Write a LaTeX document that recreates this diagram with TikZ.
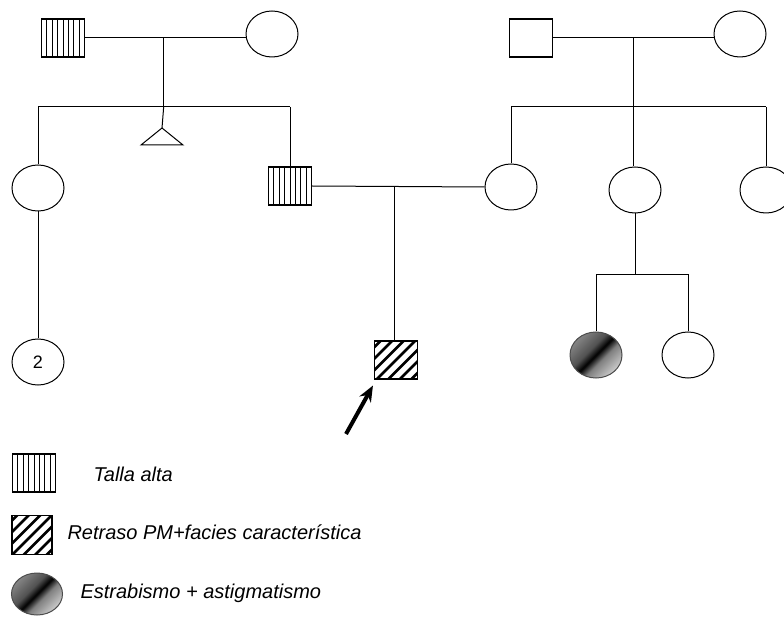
\documentclass[tikz,border=0pt]{standalone}
\usepackage{fontspec}
\setmainfont{Liberation Sans}
\usetikzlibrary{calc,shapes.geometric,arrows.meta}

% sombreado para estrabismo + astigmatismo
\pgfdeclarehorizontalshading{estrabsh}{100bp}{color(0bp)=(black!45); color(25bp)=(black!48); color(42bp)=(black!68); color(50bp)=(black); color(58bp)=(black!50); color(75bp)=(black!20); color(100bp)=(black!15)}

\tikzset{
  varon/.style={draw, rectangle, minimum width=43pt, minimum height=38pt, inner sep=0pt, line width=1.1pt},
  mujer/.style={draw, ellipse, minimum width=52pt, minimum height=46pt, inner sep=0pt, line width=1pt},
  talla/.style={varon, path picture={
      \foreach \k in {1,...,7}
        \draw[line width=0.8pt] ([xshift=\k*5.375pt]path picture bounding box.north west) -- ([xshift=\k*5.375pt]path picture bounding box.south west);}},
  retraso/.style={varon, path picture={
      \foreach \k in {-5,...,5}
        \draw[line width=2.8pt] ([xshift=\k*11.5pt]path picture bounding box.center) ++(-30pt,-30pt) -- ++(60pt,60pt);}},
  estrab/.style={mujer, draw=black!70, shading=estrabsh, shading angle=-45},
  leyenda/.style={anchor=west, inner sep=0pt, font=\fontsize{20}{23}\selectfont\itshape},
}

\begin{document}
\begin{tikzpicture}[x=1pt, y=-1pt, line width=1pt]
    \useasboundingbox (0,0) rectangle (784,617);

    % Abuelos paternos
    \node[talla] (abP) at (63,38) {};
    \node[mujer] (abaP) at (272,34) {};
    \draw (abP.east) -- (abP.east -| abaP.west);
    \coordinate (uP) at ($(abP.east)!0.49!(abP.east -| abaP.west)$);
    \coordinate (hP) at ($(uP)+(0,69)$);
    \draw (uP) -- (hP);

    % Hijos: tia, aborto, padre
    \node[mujer] (tiaP) at (38,188) {};
    \node[talla] (papa) at (290,186) {};
    \coordinate (abo) at (162,128);
    \draw (hP -| tiaP.north) -- (hP -| papa.north);
    \draw (hP -| tiaP.north) -- (tiaP.north);
    \draw (hP -| papa.north) -- (papa.north);
    \draw (hP) -- (abo);
    \draw (abo) -- ++(-21,17) -- ++(42,0) -- cycle;

    % Hija de la tia (2)
    \node[mujer, font=\fontsize{18}{20}\selectfont] (hijaP) at (38,362) {2};
    \draw (tiaP.south) -- (hijaP.north);

    % Abuelos maternos
    \node[varon] (abM) at (531,38) {};
    \node[mujer] (abaM) at (740,34) {};
    \draw (abM.east) -- (abM.east -| abaM.west);
    \coordinate (uM) at ($(abM.east)!0.5!(abM.east -| abaM.west)$);
    \coordinate (hM) at ($(uM)+(0,69)$);
    \draw (uM) -- (hM);

    % Hijas: madre, tias
    \node[mujer] (mama) at (511,187) {};
    \node[mujer] (tiaM) at (635,190) {};
    \node[mujer] (tiaM2) at (766,190) {};
    \draw (hM -| mama.north) -- (hM -| tiaM2.north);
    \draw (hM -| mama.north) -- (mama.north);
    \draw (hM) -- (hM |- tiaM.north);
    \draw (hM -| tiaM2.north) -- (tiaM2.north);

    % Primas
    \node[estrab] (prima1) at (596,355) {};
    \node[mujer] (prima2) at (688,355) {};
    \coordinate (hT) at ($(tiaM.south)+(0,61)$);
    \draw (tiaM.south) -- (hT);
    \draw (hT -| prima1.north) -- (hT -| prima2.north);
    \draw (hT -| prima1.north) -- (prima1.north);
    \draw (hT -| prima2.north) -- (prima2.north);

    % Padres y probando
    \draw (papa.east) -- (mama.west);
    \coordinate (uPr) at ($(papa.east)!0.48!(mama.west)$);
    \node[retraso] (prob) at (396,360) {};
    \draw (uPr) -- (uPr |- prob.north);

    % Flecha
    \coordinate (fl) at (346,434);
    \draw[line width=4pt, -{Stealth[length=16pt, width=13pt]}] (fl) -- ($(prob.south west)+(-1,6)$);

    % Leyenda
    \node[talla] (ley1) at (34,473) {};
    \node[leyenda] (t1) at (93,474) {Talla alta};
    \node[retraso, minimum width=40pt, minimum height=39pt] (ley2) at (32,535) {};
    \node[leyenda] (t2) at (67,532) {Retraso PM+facies característica};
    \node[estrab, minimum width=51pt, minimum height=42pt] (ley3) at (37,594) {};
    \node[leyenda] (t3) at (80,593) {Estrabismo + astigmatismo};
\end{tikzpicture}
\end{document}
